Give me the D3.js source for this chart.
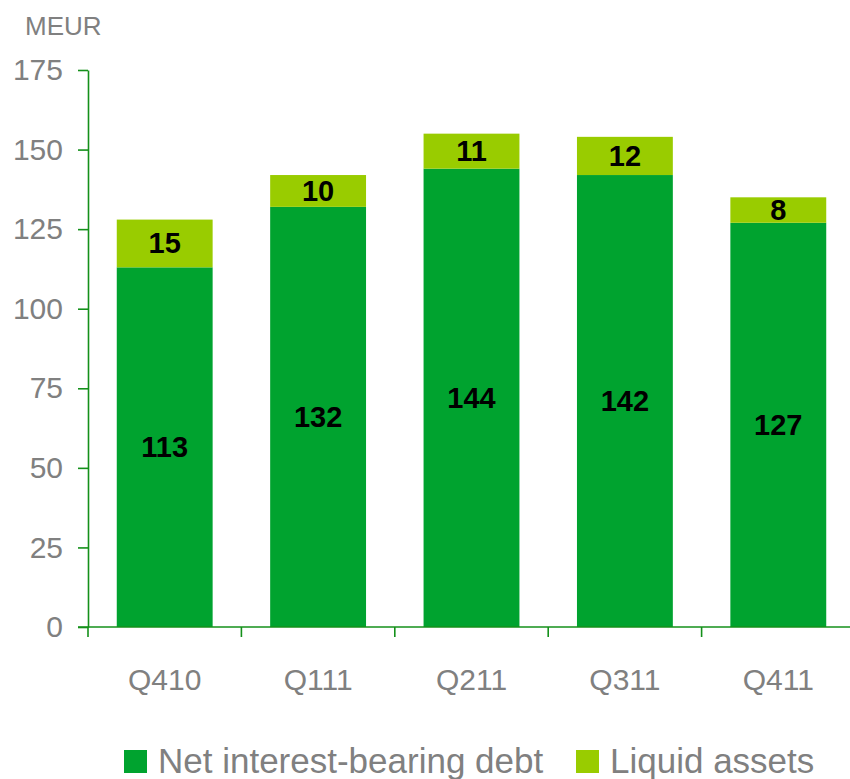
<!DOCTYPE html>
<meta charset="utf-8">
<style>
body { margin: 0; background: #fff; }
svg { font-family: "Liberation Sans", Arial, sans-serif; }
.axis path, .axis line { stroke: #14901a; stroke-width: 1.6px; }
.axis text { fill: #808080; font-size: 30px; }
.label { font-weight: bold; font-size: 29px; fill: #000; text-anchor: middle; }
</style>
<body>
<script src="https://cdn.jsdelivr.net/npm/d3@7/dist/d3.min.js"></script>
<script>

// data
var quarters = ["Q410", "Q111", "Q211", "Q311", "Q411"];
var netDebt = [113, 132, 144, 142, 127];
var liquid = [15, 10, 11, 12, 8];
var yTicks = [0, 25, 50, 75, 100, 125, 150, 175];
var seriesNames = ["Net interest-bearing debt", "Liquid assets"];
var seriesColors = ["#00a32f", "#99cc00"];

var width = 850, height = 779;
var marginLeft = 88, plotBottom = 627, plotTop = 70;

var svg = d3.select("body").append("svg")
    .attr("width", width)
    .attr("height", height);

var x = d3.scaleBand()
    .domain(quarters)
    .range([marginLeft, marginLeft + 767])
    .paddingInner(0.375)
    .paddingOuter(0.1875);

var y = d3.scaleLinear()
    .domain([0, 175])
    .range([plotBottom, plotTop]);

// stacked bars
var rows = quarters.map(function(q, i) { return {q: q, net: netDebt[i], liq: liquid[i]}; });

svg.selectAll(".net")
    .data(rows)
  .enter().append("rect")
    .attr("x", function(d) { return x(d.q); })
    .attr("width", x.bandwidth())
    .attr("y", function(d) { return y(d.net); })
    .attr("height", function(d) { return y(0) - y(d.net); })
    .style("fill", seriesColors[0]);

svg.selectAll(".liq")
    .data(rows)
  .enter().append("rect")
    .attr("x", function(d) { return x(d.q); })
    .attr("width", x.bandwidth())
    .attr("y", function(d) { return y(d.net + d.liq); })
    .attr("height", function(d) { return y(d.net) - y(d.net + d.liq); })
    .style("fill", seriesColors[1]);

// value labels
svg.selectAll(".lnet")
    .data(rows)
  .enter().append("text")
    .attr("class", "label")
    .attr("x", function(d) { return x(d.q) + x.bandwidth() / 2; })
    .attr("y", function(d) { return y(d.net / 2) + 10; })
    .text(function(d) { return d.net; });

svg.selectAll(".lliq")
    .data(rows)
  .enter().append("text")
    .attr("class", "label")
    .attr("x", function(d) { return x(d.q) + x.bandwidth() / 2; })
    .attr("y", function(d) { return y(d.net + d.liq / 2) + 10; })
    .text(function(d) { return d.liq; });

// y axis
svg.append("g")
    .attr("class", "axis")
    .attr("transform", "translate(" + marginLeft + ",0)")
    .call(d3.axisLeft(y).tickValues(yTicks).tickSize(10).tickSizeOuter(0).tickPadding(15));

// x axis: line + ticks at band boundaries
var xAxis = svg.append("g")
    .attr("class", "axis")
    .attr("transform", "translate(0," + plotBottom + ")")
    .call(d3.axisBottom(x).tickSize(0).tickPadding(42));
xAxis.select(".domain").attr("d", "M" + (marginLeft - 10) + ",0H" + width);

xAxis.selectAll(".bound")
    .data(d3.range(quarters.length))
  .enter().append("line")
    .attr("x1", function(i) { return marginLeft + i * x.step(); })
    .attr("x2", function(i) { return marginLeft + i * x.step(); })
    .attr("y1", 0)
    .attr("y2", 10);

// unit label
svg.append("text")
    .attr("x", 25)
    .attr("y", 35)
    .style("fill", "#808080")
    .style("font-size", "26px")
    .text("MEUR");

// legend
var legendX = [124, 576];
var legend = svg.selectAll(".legend")
    .data(seriesNames)
  .enter().append("g")
    .attr("transform", function(d, i) { return "translate(" + legendX[i] + ",750)"; });

legend.append("rect")
    .attr("width", 23)
    .attr("height", 23)
    .style("fill", function(d, i) { return seriesColors[i]; });

legend.append("text")
    .attr("x", 34)
    .attr("y", 23)
    .style("fill", "#808080")
    .style("font-size", "35px")
    .text(function(d) { return d; });

</script>
</body>
